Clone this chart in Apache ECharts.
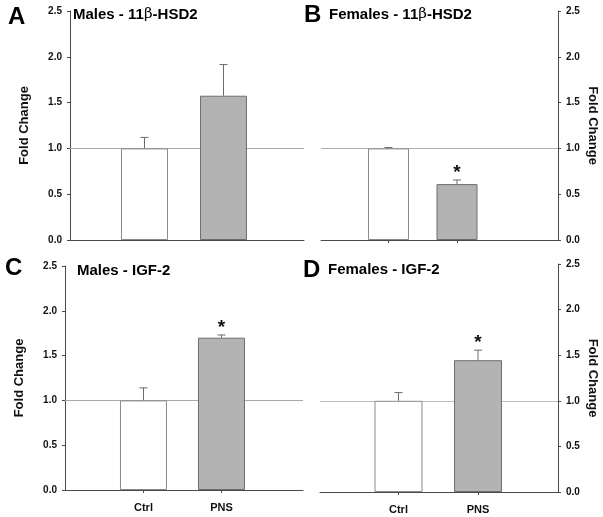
<!DOCTYPE html>
<html>
<head>
<meta charset="utf-8">
<script src="https://cdn.jsdelivr.net/npm/echarts@6/dist/echarts.min.js"></script>
<style>html,body{margin:0;padding:0;background:#fff}#c{width:603px;height:517px}</style>
</head>
<body>
<div id="c"></div>
<script>
// ---- data ----
var categories = ['Ctrl', 'PNS'];
var yTicks = [0, 0.5, 1.0, 1.5, 2.0, 2.5];
var panelLetters = ['A', 'B', 'C', 'D'];
var panelTitles = ['Males - 11\u03B2-HSD2', 'Females - 11\u03B2-HSD2', 'Males - IGF-2', 'Females - IGF-2'];
var males11bMean = [1.0, 1.575];
var males11bErr = [0.12, 0.34];
var males11bSig = [0, 0];
var females11bMean = [1.0, 0.61];
var females11bErr = [0.01, 0.045];
var females11bSig = [0, 1];
var malesIgfMean = [1.0, 1.70];
var malesIgfErr = [0.14, 0.03];
var malesIgfSig = [0, 1];
var femalesIgfMean = [1.0, 1.445];
var femalesIgfErr = [0.09, 0.11];
var femalesIgfSig = [0, 1];
var referenceLevel = 1.0;
var yAxisTitle = 'Fold Change';

var means = [males11bMean, females11bMean, malesIgfMean, femalesIgfMean];
var errs = [males11bErr, females11bErr, malesIgfErr, femalesIgfErr];
var sigs = [males11bSig, females11bSig, malesIgfSig, femalesIgfSig];

// ---- layout ----
var FONT = 'Arial, "Liberation Sans", Helvetica, sans-serif';
var grids = [
  {left: 70, top: 11, width: 234, height: 229},
  {left: 321, top: 11, width: 237, height: 229},
  {left: 65, top: 266, width: 238, height: 224},
  {left: 320, top: 264, width: 238, height: 228}
];
var xRanges = [[-0.943, 2.019], [-0.985, 2.474], [-1.006, 2.045], [-0.987, 2.006]];
var barWidths = [47, 41, 47, 48];
var yPos = ['left', 'right', 'left', 'right'];
var showXLabels = [false, false, true, true];
var showXTicks = [false, true, true, true];
var refColor = ['#a8a8a8', '#b0b0b0', '#a8a8a8', '#bdbdbd'];

var option = {
  backgroundColor: '#fff',
  animation: false,
  grid: grids.map(function (g) { return Object.assign({containLabel: false}, g); }),
  xAxis: grids.map(function (g, i) {
    return {
      type: 'value', gridIndex: i, min: xRanges[i][0], max: xRanges[i][1],
      splitLine: {show: false},
      axisLine: {show: true, onZero: false, lineStyle: {color: '#4a4a4a', width: 1}},
      axisTick: {show: showXTicks[i], length: 3, customValues: [0, 1], lineStyle: {color: '#4a4a4a'}},
      axisLabel: {
        show: showXLabels[i], customValues: [0, 1], margin: 12,
        fontFamily: FONT, fontWeight: 'bold', fontSize: 11, color: '#111',
        formatter: function (v) { return categories[Math.round(v)] || ''; }
      }
    };
  }),
  yAxis: grids.map(function (g, i) {
    return {
      type: 'value', gridIndex: i, min: 0, max: 2.5, interval: 0.5, position: yPos[i],
      splitLine: {show: false},
      axisLine: {show: true, onZero: false, lineStyle: {color: '#4a4a4a', width: 1}},
      axisTick: {show: true, length: 3, lineStyle: {color: '#4a4a4a'}},
      axisLabel: {
        margin: 8, fontFamily: FONT, fontWeight: 'bold', fontSize: 10, color: '#111',
        formatter: function (v) { return v.toFixed(1); }
      },
      name: yAxisTitle, nameLocation: 'middle',
      nameGap: i % 2 === 0 ? 39 : 28,
      nameRotate: i % 2 === 0 ? 90 : -90,
      nameTextStyle: {fontFamily: FONT, fontWeight: 'bold', fontSize: 13, color: '#111'}
    };
  }),
  series: [],
  graphic: []
};

for (var p = 0; p < 4; p++) {
  (function (p) {
    option.series.push({
      type: 'bar', xAxisIndex: p, yAxisIndex: p, barWidth: barWidths[p], z: 3,
      data: means[p].map(function (v, i) {
        return {
          value: [i, v],
          itemStyle: {
            color: i === 0 ? '#ffffff' : '#b3b3b3',
            borderColor: i === 0 ? '#8a8a8a' : '#6e6e6e',
            borderWidth: 1
          }
        };
      }),
      markLine: {
        silent: true, symbol: 'none', z: 2,
        label: {show: false},
        lineStyle: {color: refColor[p], width: 1, type: 'solid'},
        data: [{yAxis: referenceLevel}]
      }
    });
    option.series.push({
      type: 'custom', xAxisIndex: p, yAxisIndex: p, z: 4,
      data: means[p].map(function (v, i) { return [i, v, errs[p][i], sigs[p][i]]; }),
      renderItem: function (params, api) {
        var x = api.value(0), y = api.value(1), e = api.value(2), s = api.value(3);
        var b = api.coord([x, y]);
        var t = api.coord([x, y + e]);
        var st = {stroke: '#6a6a6a', lineWidth: 1};
        var ch = [
          {type: 'line', shape: {x1: b[0], y1: b[1], x2: t[0], y2: t[1]}, style: st},
          {type: 'line', shape: {x1: t[0] - 4, y1: t[1], x2: t[0] + 4, y2: t[1]}, style: st}
        ];
        if (s) {
          ch.push({type: 'text', style: {
            text: '*', x: t[0], y: t[1] + 2, align: 'center', verticalAlign: 'bottom',
            font: 'bold 19px ' + FONT, fill: '#111'
          }});
        }
        return {type: 'group', children: ch};
      }
    });
  })(p);
}

function richTitle(s) {
  var parts = s.split('\u03B2');
  return parts.length > 1 ? parts[0] + '{g|\u03B2}' + parts[1] : s;
}

var letterPos = [[8, 17], [304, 15], [5, 268], [303, 270]];
var titlePos = [[73, 16], [329, 16], [77, 272], [328, 271]];
for (var k = 0; k < 4; k++) {
  option.graphic.push({
    type: 'text', left: letterPos[k][0], top: letterPos[k][1] - 12,
    style: {text: panelLetters[k], font: 'bold 24px ' + FONT, fill: '#000'}
  });
  option.graphic.push({
    type: 'text', left: titlePos[k][0], top: titlePos[k][1] - 9,
    style: {
      text: richTitle(panelTitles[k]), font: 'bold 15px ' + FONT, fill: '#000',
      rich: {g: {font: 'normal 15px "DejaVu Serif", serif', fill: '#000'}}
    }
  });
}

var chart = echarts.init(document.getElementById('c'), null, {renderer: 'canvas'});
chart.setOption(option);
</script>
</body>
</html>
